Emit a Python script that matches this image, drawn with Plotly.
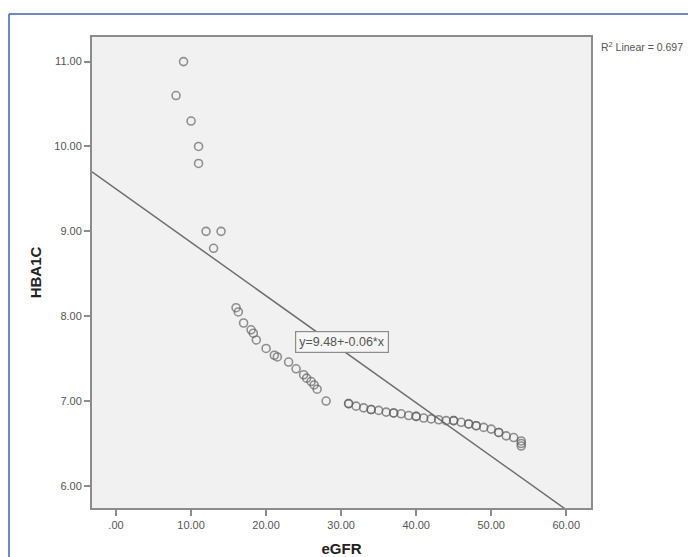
import plotly.graph_objects as go

# ---- data ----
egfr = [9, 8, 10, 11, 11, 12, 14, 13,
        16, 16.3, 17, 18, 18.3, 18.7, 20, 21.1, 21.5, 23, 24, 25, 25.4, 26, 26.4, 26.8, 28,
        31, 31, 32, 33, 34, 34, 35, 36, 37, 37, 38, 39, 40, 40, 41, 42, 43, 44, 45, 45,
        46, 47, 47, 48, 48, 49, 50, 51, 51, 52, 53, 54, 54, 54]
hba1c = [11.0, 10.6, 10.3, 10.0, 9.8, 9.0, 9.0, 8.8,
         8.1, 8.05, 7.92, 7.84, 7.80, 7.72, 7.62, 7.54, 7.52, 7.46, 7.38, 7.31, 7.27, 7.23, 7.19, 7.14, 7.0,
         6.97, 6.97, 6.94, 6.92, 6.90, 6.90, 6.89, 6.87, 6.86, 6.86, 6.85, 6.83, 6.82, 6.82, 6.80, 6.79,
         6.78, 6.77, 6.77, 6.77, 6.75, 6.73, 6.73, 6.71, 6.71, 6.69, 6.67, 6.63, 6.63, 6.59, 6.57,
         6.53, 6.50, 6.47]

fit_intercept = 9.50
fit_slope = -0.0630
fit_label = "y=9.48+-0.06*x"
r2_label = "R<sup>2</sup> Linear = 0.697"

x_tickvals = [0, 10, 20, 30, 40, 50, 60]
x_ticktext = [".00", "10.00", "20.00", "30.00", "40.00", "50.00", "60.00"]
y_tickvals = [6, 7, 8, 9, 10, 11]
y_ticktext = ["6.00", "7.00", "8.00", "9.00", "10.00", "11.00"]

x_range = [-3.2, 63.3]
y_range = [5.74, 11.29]

fit_x = [x_range[0], x_range[1]]
fit_y = [fit_intercept + fit_slope * v for v in fit_x]

FONT = "Liberation Sans, Arial, sans-serif"

fig = go.Figure()
fig.add_trace(go.Scatter(
    x=fit_x, y=fit_y, mode="lines",
    line=dict(color="#6e6e6e", width=1.5),
    hoverinfo="skip", showlegend=False,
))
fig.add_trace(go.Scatter(
    x=egfr, y=hba1c, mode="markers",
    marker=dict(symbol="circle-open", size=8, color="rgba(100,100,100,0.7)",
                line=dict(width=1.6, color="rgba(100,100,100,0.7)")),
    showlegend=False,
))

axis_common = dict(
    showgrid=False, zeroline=False, showline=True, mirror=True,
    linecolor="#8c8c8c", linewidth=2, ticks="outside", ticklen=6,
    tickcolor="#8c8c8c", tickwidth=1.5, automargin=False,
    tickfont=dict(family=FONT, size=11, color="#555555"),
)

fig.update_layout(
    width=688, height=557,
    margin=dict(l=92, r=97, t=37, b=49),
    paper_bgcolor="white",
    plot_bgcolor="#f1f1f1",
    xaxis=dict(range=x_range, tickvals=x_tickvals, ticktext=x_ticktext,
               title=dict(text="<b>eGFR</b>", standoff=14,
                          font=dict(family=FONT, size=15, color="#222222")),
               **axis_common),
    yaxis=dict(range=y_range, tickvals=y_tickvals, ticktext=y_ticktext,
               title=dict(text="<b>HBA1C</b>", standoff=9,
                          font=dict(family=FONT, size=15, color="#222222")),
               **axis_common),
    annotations=[
        dict(x=30.1, y=7.70, xref="x", yref="y", text=fit_label, showarrow=False,
             font=dict(family=FONT, size=12.5, color="#555555"),
             bgcolor="#f6f6f6", bordercolor="#8c8c8c", borderwidth=1.2, borderpad=3),
        dict(x=1.0, y=1.0, xref="paper", yref="paper", xanchor="left", yanchor="top",
             xshift=8, yshift=-1, text=r2_label, showarrow=False,
             font=dict(family=FONT, size=10.5, color="#555555")),
    ],
    shapes=[
        dict(type="line", xref="paper", yref="paper", x0=-0.1663, x1=-0.1663, y0=-0.2, y1=1.0488,
             line=dict(color="#3f62a8", width=1.5)),
        dict(type="line", xref="paper", yref="paper", x0=-0.1663, x1=1.3, y0=1.0488, y1=1.0488,
             line=dict(color="#3f62a8", width=1.5)),
    ],
)

fig.write_html("out.html", config={"displayModeBar": False},
               post_script="document.body.style.margin='0';")
